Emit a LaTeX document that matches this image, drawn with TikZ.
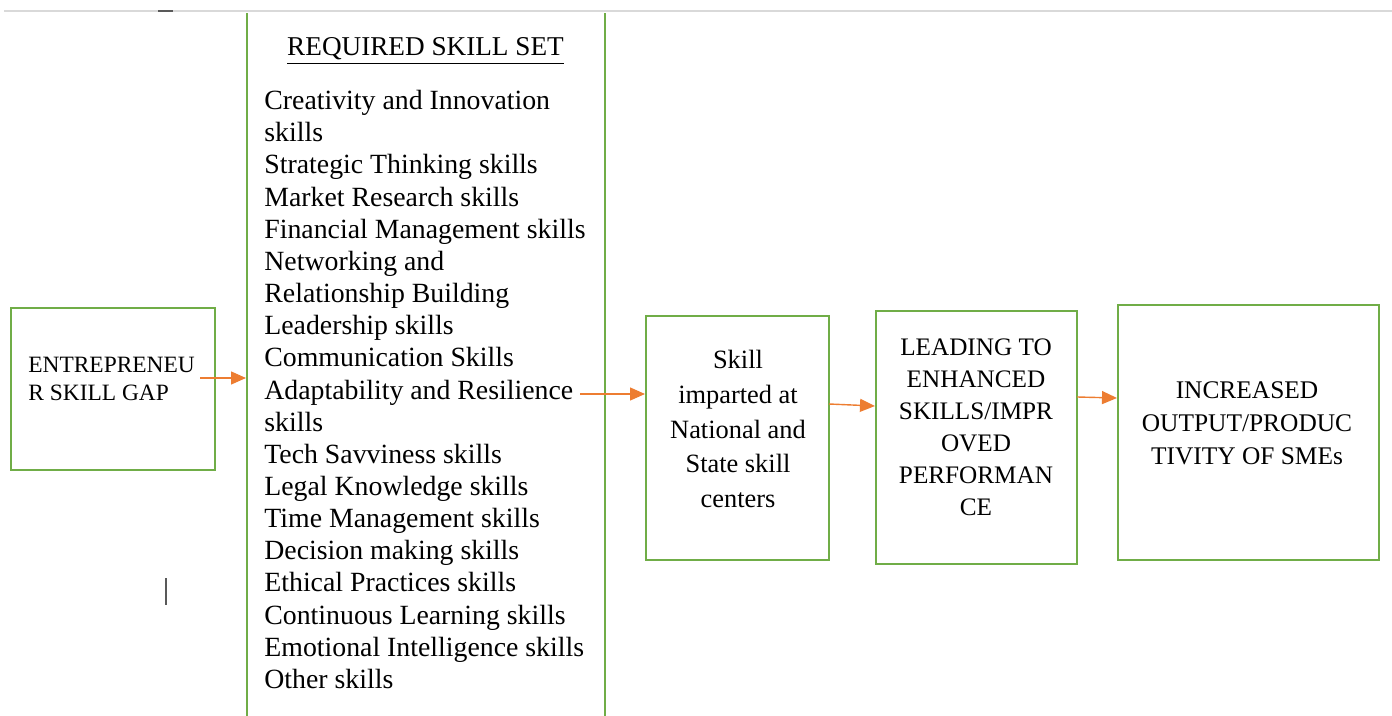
\documentclass[tikz,border=0pt]{standalone}
\usepackage{fontspec}
\setmainfont{Liberation Serif}
\usetikzlibrary{arrows.meta}
\definecolor{boxgreen}{HTML}{70AD47}
\definecolor{arrorange}{HTML}{ED7D31}
\definecolor{rulegray}{HTML}{D9D9D9}
\definecolor{markgray}{HTML}{595959}
\begin{document}
\begin{tikzpicture}[x=0.5pt,y=-0.5pt,
  greenbox/.style={draw=boxgreen, line width=1pt, rectangle, inner sep=0pt},
  boxtext/.style={inner sep=0pt, font=\fontsize{12.7}{16.2}\selectfont},
  arr/.style={draw=arrorange, line width=0.7pt, -{Triangle[length=7.5pt,width=6.5pt]}}]
\useasboundingbox (0,0) rectangle (1392,716);

% page rule and stray marks
\draw[rulegray, line width=0.6pt] (4,11) -- (1392,11);
\draw[markgray, line width=0.8pt] (158,11) -- (173,11);
\draw[markgray, line width=0.8pt] (166,578) -- (166,605);

% boxes
\node[greenbox, minimum width=102pt, minimum height=81pt] (gap) at (113,389) {};
\begin{scope}
  \clip (0,14) rectangle (1392,716);
  \node[greenbox, minimum width=179pt, minimum height=400pt] (set) at (426,380) {};
\end{scope}
\node[greenbox, minimum width=91.5pt, minimum height=122pt] (skill) at (737.5,438) {};
\node[greenbox, minimum width=100.5pt, minimum height=126.5pt] (lead) at (976.5,437.5) {};
\node[greenbox, minimum width=130.5pt, minimum height=127.5pt] (out) at (1248.5,432.5) {};

% box texts
\node[boxtext, anchor=west, align=left, font=\fontsize{11.7}{14}\selectfont] (gaptxt) at (28,379)
  {ENTREPRENEU\\R SKILL GAP};
\node[boxtext, align=center, font=\fontsize{13.2}{17.4}\selectfont] (skilltxt) at (738,429)
  {Skill\\imparted at\\National and\\State skill\\centers};
\node[boxtext, align=center, font=\fontsize{12.6}{16}\selectfont] (leadtxt) at (976,427.5)
  {LEADING TO\\ENHANCED\\SKILLS/IMPR\\OVED\\PERFORMAN\\CE};
\node[boxtext, align=center, font=\fontsize{12.7}{16.5}\selectfont] (outtxt) at (1247,423)
  {INCREASED\\OUTPUT/PRODUC\\TIVITY OF SMEs};

% skill set heading and list
\node[boxtext, font=\fontsize{13.6}{16}\selectfont] (head) at (425.5,51) {\underline{REQUIRED SKILL SET}};
\node[boxtext, anchor=west, align=left, font=\fontsize{13.9}{16.08}\selectfont] (list) at (264,389.5)
  {Creativity and Innovation\\skills\\Strategic Thinking skills\\Market Research skills\\
   Financial Management skills\\Networking and\\Relationship Building\\Leadership skills\\
   Communication Skills\\Adaptability and Resilience\\skills\\Tech Savviness skills\\
   Legal Knowledge skills\\Time Management skills\\Decision making skills\\
   Ethical Practices skills\\Continuous Learning skills\\Emotional Intelligence skills\\Other skills};

% connectors
\coordinate (c1) at (200,378);
\coordinate (c2) at (580,394);
\coordinate (c3) at (829,404);
\coordinate (c3e) at (876,406);
\coordinate (c4) at (1077,397);
\coordinate (c4e) at (1118,398);
\draw[arr] (c1) -- (c1 -| set.west);
\draw[arr] (c2) -- (c2 -| skill.west);
\draw[arr] (c3) -- (c3e -| lead.west);
\draw[arr] (c4) -- (c4e -| out.west);
\end{tikzpicture}
\end{document}
